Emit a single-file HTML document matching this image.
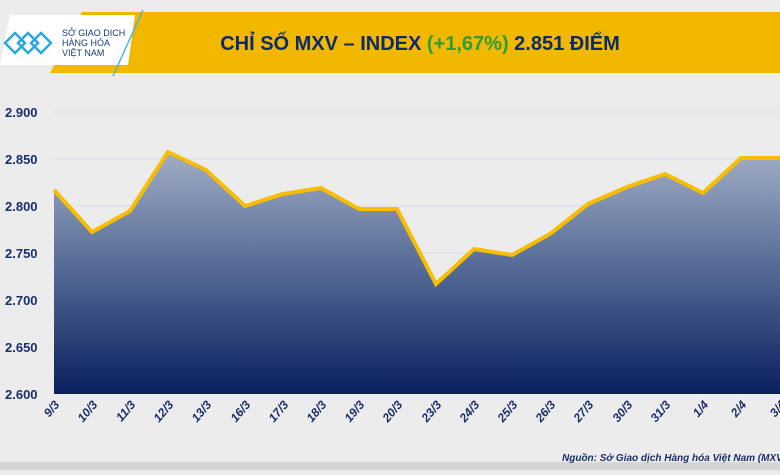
<!DOCTYPE html>
<html><head><meta charset="utf-8"><style>
body{margin:0;width:780px;height:470px;overflow:hidden;background:#ececec;font-family:"Liberation Sans",sans-serif}
</style></head><body>
<svg width="780" height="470" viewBox="0 0 780 470" xmlns="http://www.w3.org/2000/svg">
<defs>
<linearGradient id="g" gradientUnits="userSpaceOnUse" x1="0" y1="150" x2="0" y2="394">
<stop offset="0" stop-color="#a3aec6"/><stop offset="0.45" stop-color="#5a6f98"/><stop offset="1" stop-color="#0a1f5e"/>
</linearGradient>
</defs>
<rect width="780" height="470" fill="#ececec"/>
<rect x="0" y="462" width="780" height="8" fill="#d6d6d6"/>
<polygon points="82,12 780,12 780,73 50,73" fill="#f2b800"/>
<polygon points="10,15 135,15 128,65 0,65" fill="#fff"/>
<line x1="143" y1="10" x2="113" y2="76" stroke="#4db3e6" stroke-width="1.5"/>
<g fill="none" stroke="#2aa7df" stroke-width="2.5">
<path d="M5,43 L15,33 L25,43 L15,53 Z"/><path d="M18,43 L28,33 L38,43 L28,53 Z"/><path d="M31,43 L41,33 L51,43 L41,53 Z"/>
</g>
<text x="62" y="36" font-size="9" fill="#1a3a7a">SỞ GIAO DỊCH</text>
<text x="62" y="46" font-size="9" fill="#1a3a7a">HÀNG HÓA</text>
<text x="62" y="56" font-size="9" fill="#1a3a7a">VIỆT NAM</text>
<text x="420" y="50" text-anchor="middle" font-size="20" font-weight="bold" fill="#0d2a6b">CHỈ SỐ MXV – INDEX <tspan fill="#2e9c3a">(+1,67%)</tspan> 2.851 ĐIỂM</text>
<g stroke="#d8dbe6" stroke-width="1">
<line x1="54" y1="112" x2="780" y2="112"/><line x1="54" y1="159" x2="780" y2="159"/><line x1="54" y1="206" x2="780" y2="206"/><line x1="54" y1="253" x2="780" y2="253"/><line x1="54" y1="300" x2="780" y2="300"/><line x1="54" y1="347" x2="780" y2="347"/>
</g>
<g font-size="13" font-weight="bold" fill="#1a2f6a" text-anchor="start">
<text x="5" y="117">2.900</text><text x="5" y="164">2.850</text><text x="5" y="211">2.800</text><text x="5" y="258">2.750</text><text x="5" y="305">2.700</text><text x="5" y="352">2.650</text><text x="5" y="399">2.600</text>
</g>
<polygon fill="url(#g)" points="54,394 54,190 92,232 130,211 168,152 206,170 245,206 283,194 321,188 359,209 397,209 436,284 474,249 512,255 550,234 588,204 627,187 665,174 703,193 741,158 780,158 780,394"/>
<polyline fill="none" stroke="#f7bd00" stroke-width="4" stroke-linejoin="miter" points="54,190 92,232 130,211 168,152 206,170 245,206 283,194 321,188 359,209 397,209 436,284 474,249 512,255 550,234 588,204 627,187 665,174 703,193 741,158 780,158"/>
<g font-size="12" font-weight="bold" font-style="italic" fill="#1a2f6a" text-anchor="end">
<text transform="translate(60,405) rotate(-50)">9/3</text>
<text transform="translate(98,405) rotate(-50)">10/3</text>
<text transform="translate(136,405) rotate(-50)">11/3</text>
<text transform="translate(174,405) rotate(-50)">12/3</text>
<text transform="translate(212,405) rotate(-50)">13/3</text>
<text transform="translate(251,405) rotate(-50)">16/3</text>
<text transform="translate(289,405) rotate(-50)">17/3</text>
<text transform="translate(327,405) rotate(-50)">18/3</text>
<text transform="translate(365,405) rotate(-50)">19/3</text>
<text transform="translate(403,405) rotate(-50)">20/3</text>
<text transform="translate(442,405) rotate(-50)">23/3</text>
<text transform="translate(480,405) rotate(-50)">24/3</text>
<text transform="translate(518,405) rotate(-50)">25/3</text>
<text transform="translate(556,405) rotate(-50)">26/3</text>
<text transform="translate(594,405) rotate(-50)">27/3</text>
<text transform="translate(633,405) rotate(-50)">30/3</text>
<text transform="translate(671,405) rotate(-50)">31/3</text>
<text transform="translate(709,405) rotate(-50)">1/4</text>
<text transform="translate(747,405) rotate(-50)">2/4</text>
<text transform="translate(786,405) rotate(-50)">3/4</text>
</g>
<text x="562" y="461" font-size="10" font-style="italic" font-weight="bold" fill="#1a2f6a">Nguồn: Sở Giao dịch Hàng hóa Việt Nam (MXV)</text>
</svg>
</body></html>
